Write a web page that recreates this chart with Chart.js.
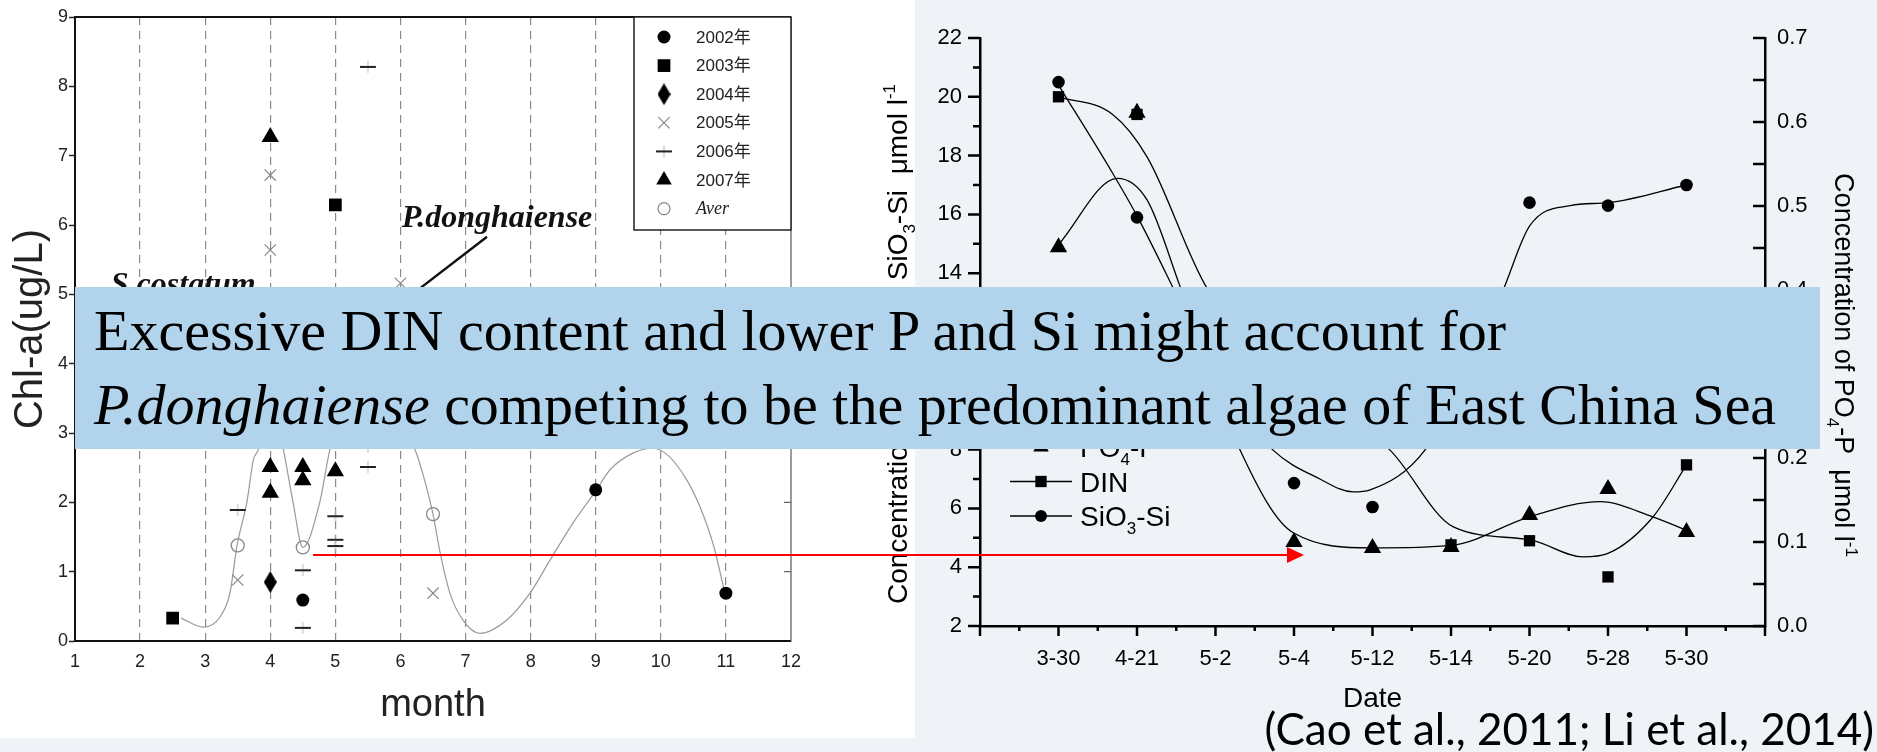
<!DOCTYPE html>
<html>
<head>
<meta charset="utf-8">
<title>Chl-a and nutrients</title>
<script src="https://cdn.jsdelivr.net/npm/chart.js@4.4.1/dist/chart.umd.min.js"></script>
<style>
  html, body { margin: 0; padding: 0; }
  body { width: 1877px; height: 752px; position: relative; overflow: hidden; background: #eff3f8; }
  #leftPanel { position: absolute; left: 0; top: 0; width: 915px; height: 738px; background: #fff; }
  #leftChart { position: absolute; left: 0; top: 0; }
  #rightChart { position: absolute; left: 870px; top: 0; }
  #note {
    position: absolute; left: 75px; top: 287px; width: 1745px; height: 162px;
    box-sizing: border-box; padding: 7px 0 0 19px; background: #b1d3eb;
    font-family: 'Liberation Serif', 'Times New Roman', serif; font-size: 58px; line-height: 74px;
    color: #000; white-space: nowrap;
  }
  #arrow { position: absolute; left: 0; top: 0; pointer-events: none; }
  #cite {
    position: absolute; right: 3px; top: 702px; font-family: Lato, 'Open Sans', sans-serif;
    font-size: 44px; line-height: 53px; color: #000; white-space: nowrap;
  }
</style>
</head>
<body>
<div id="leftPanel"></div>
<canvas id="leftChart" width="915" height="738"></canvas>
<canvas id="rightChart" width="1007" height="752"></canvas>
<div id="note">Excessive DIN content and lower P and Si might account for<br><i>P.donghaiense</i> competing to be the predominant algae of East China Sea</div>
<svg id="arrow" width="1877" height="752">
  <line x1="313" y1="555" x2="1290" y2="555" stroke="#ff0000" stroke-width="2"/>
  <polygon points="1287,547 1304,555 1287,563" fill="#ff0000"/>
</svg>
<div id="cite">(Cao et al., 2011; Li et al., 2014)</div>

<script>
// ---- left chart: Chl-a by month (points are [month, ug/L]) ----
const monthTicks = ['1', '2', '3', '4', '5', '6', '7', '8', '9', '10', '11', '12'];
const chlTicks = ['0', '1', '2', '3', '4', '5', '6', '7', '8', '9'];
const yr2002 = [[4.5, 0.59], [9, 2.18], [11, 0.69]];
const yr2003 = [[2.5, 0.33], [5, 6.29]];
const yr2004 = [[4, 0.85]];
const yr2005 = [[3.5, 0.88], [4, 5.64], [4, 6.72], [6, 5.16], [6.5, 0.69]];
const yr2006 = [[3.5, 1.89], [4.5, 1.02], [4.5, 0.19], [5, 1.8], [5, 1.46], [5, 1.37], [5.5, 2.51], [5.5, 2.8], [5.5, 8.28]];
const yr2007 = [[4, 7.27], [4, 2.51], [4, 2.14], [4.5, 2.51], [4.5, 2.32], [5, 2.45]];
const yrAver = [[3.5, 1.38], [4.5, 1.35], [6.5, 1.83]];
const averCurve = [
  [2.63, 0.33], [2.97, 0.2], [3.23, 0.35], [3.38, 0.69], [3.49, 1.38], [3.64, 2.0], [3.74, 2.61],
  [3.82, 2.77], [4.0, 3.6], [4.2, 2.77], [4.35, 2.0], [4.5, 1.35], [4.76, 2.0], [4.92, 2.77],
  [5.5, 3.9], [6.22, 2.77], [6.4, 2.22], [6.5, 1.83], [6.61, 1.27], [6.76, 0.69], [6.96, 0.3],
  [7.22, 0.11], [7.63, 0.3], [7.99, 0.69], [8.3, 1.17], [8.65, 1.7], [8.99, 2.15], [9.22, 2.47],
  [9.57, 2.71], [9.88, 2.78], [10.4, 2.32], [10.8, 1.41], [10.97, 0.75]
];

// ---- right chart: nutrients by date ----
const dates = ['3-30', '4-21', '5-2', '5-4', '5-12', '5-14', '5-20', '5-28', '5-30'];
const po4 = [0.451, 0.611, null, 0.1, 0.093, 0.094, 0.132, 0.163, 0.112];
const din = [20.0, 19.4, null, null, null, 4.76, 4.9, 3.67, 7.48];
const sio3 = [20.5, 15.9, null, 6.86, 6.05, null, 16.4, 16.3, 17.0];
// fitted curves (x in date slots)
const po4CurveX = [1.0, 1.75, 2.13, 2.55, 3.31, 3.99, 5.0, 6.01, 7.0, 7.9, 8.57, 9.0];
const po4CurveY = [0.454, 0.533, 0.507, 0.404, 0.21, 0.111, 0.093, 0.096, 0.13, 0.148, 0.13, 0.114];
const dinCurveX = [1.0, 1.69, 2.13, 2.89, 4.0, 5.22, 6.03, 7.01, 7.68, 8.0, 8.57, 9.0];
const dinCurveY = [20.0, 19.4, 17.95, 13.5, 10.3, 7.99, 5.37, 4.93, 4.35, 4.47, 5.7, 7.48];
const sioCurveX = [1.0, 1.69, 2.01, 2.46, 3.0, 3.73, 4.33, 4.75, 4.97, 5.67, 6.2, 6.66, 7.0, 7.52, 8.0, 9.0];
const sioCurveY = [20.4, 17.4, 15.9, 13.5, 10.5, 7.99, 7.0, 6.56, 6.63, 7.99, 10.7, 13.4, 15.6, 16.3, 16.4, 17.0];

const SANS = "'Liberation Sans', Arial, sans-serif";
const SERIF = "'Liberation Serif', 'Times New Roman', serif";
Chart.defaults.font.family = SANS;
Chart.defaults.color = '#000';

const pts = arr => arr.map(p => ({ x: p[0], y: p[1] }));
const xy = (xs, ys) => xs.map((x, i) => ({ x: x, y: ys[i] }));
const slots = vals => vals.map((v, i) => ({ x: i + 1, y: v }));

// small custom markers
function markCanvas(w, h, draw) {
  const c = document.createElement('canvas');
  c.width = w; c.height = h;
  draw(c.getContext('2d'), w, h);
  return c;
}
const diamondMark = markCanvas(13, 22, (g, w, h) => {
  g.fillStyle = '#000';
  g.beginPath(); g.moveTo(w / 2, 0); g.lineTo(w, h / 2); g.lineTo(w / 2, h); g.lineTo(0, h / 2); g.closePath(); g.fill();
});
const dashMark = markCanvas(18, 14, (g) => {
  g.fillStyle = '#bbb'; g.fillRect(8.5, 1, 1, 12);
  g.fillStyle = '#222'; g.fillRect(1, 6, 16, 2);
});

function drawMark(ctx, style, x, y, r, fill, stroke) {
  ctx.save();
  ctx.fillStyle = fill; ctx.strokeStyle = stroke; ctx.lineWidth = 1.2;
  ctx.beginPath();
  if (style === 'circle') { ctx.arc(x, y, r, 0, Math.PI * 2); ctx.fill(); }
  else if (style === 'ring') { ctx.arc(x, y, r, 0, Math.PI * 2); ctx.stroke(); }
  else if (style === 'rect') { const s = r / Math.SQRT2; ctx.fillRect(x - s, y - s, 2 * s, 2 * s); }
  else if (style === 'triangle') {
    for (let k = 0; k < 3; k++) {
      const a = k * 2 * Math.PI / 3;
      const px = x + Math.sin(a) * r, py = y - Math.cos(a) * r;
      if (k === 0) ctx.moveTo(px, py); else ctx.lineTo(px, py);
    }
    ctx.closePath(); ctx.fill();
  } else if (style === 'crossRot') {
    const d = r * 0.7;
    ctx.moveTo(x - d, y - d); ctx.lineTo(x + d, y + d); ctx.moveTo(x + d, y - d); ctx.lineTo(x - d, y + d); ctx.stroke();
  } else if (style instanceof HTMLCanvasElement) {
    ctx.drawImage(style, x - style.width / 2, y - style.height / 2);
  }
  ctx.restore();
}

// text with sub/superscript parts
function drawRich(ctx, parts, x, y, size, rot, align) {
  ctx.save();
  ctx.translate(x, y); ctx.rotate(rot || 0);
  ctx.textBaseline = 'alphabetic'; ctx.textAlign = 'left'; ctx.fillStyle = '#000';
  const fontOf = p => ((p.sub || p.sup) ? Math.round(size * 0.62) : size) + 'px ' + SANS;
  let w = 0;
  parts.forEach(p => { ctx.font = fontOf(p); w += ctx.measureText(p.t).width; });
  let cx = align === 'left' ? 0 : -w / 2;
  parts.forEach(p => {
    ctx.font = fontOf(p);
    const dy = p.sub ? size * 0.3 : (p.sup ? -size * 0.42 : 0);
    ctx.fillText(p.t, cx, dy);
    cx += ctx.measureText(p.t).width;
  });
  ctx.restore();
}

// ---- left chart extras: frame, legend box, species labels ----
const leftLegend = [
  { text: '2002年', style: 'circle', r: 6.5, fill: '#000', stroke: '#000' },
  { text: '2003年', style: 'rect', r: 9, fill: '#000', stroke: '#000' },
  { text: '2004年', style: diamondMark, r: 0, fill: '#000', stroke: '#000' },
  { text: '2005年', style: 'crossRot', r: 8, fill: '#888', stroke: '#888' },
  { text: '2006年', style: dashMark, r: 0, fill: '#000', stroke: '#000' },
  { text: '2007年', style: 'triangle', r: 9, fill: '#000', stroke: '#000' },
  { text: 'Aver', style: 'ring', r: 6, fill: '#fff', stroke: '#888', italic: true }
];

const leftDecor = {
  id: 'leftDecor',
  afterDatasetsDraw(chart) {
    const { ctx, chartArea: a, scales } = chart;
    const sx = scales.x, sy = scales.y;
    ctx.save();
    // top and right frame
    ctx.strokeStyle = '#111'; ctx.lineWidth = 2;
    ctx.beginPath(); ctx.moveTo(a.left, a.top); ctx.lineTo(a.right, a.top); ctx.stroke();
    ctx.strokeStyle = '#666'; ctx.lineWidth = 1.3;
    ctx.beginPath(); ctx.moveTo(a.right, a.top); ctx.lineTo(a.right, a.bottom);
    for (let v = 1; v < 9; v++) { const y = sy.getPixelForValue(v); ctx.moveTo(a.right - 7, y); ctx.lineTo(a.right, y); }
    ctx.stroke();

    // species labels and pointer
    ctx.fillStyle = '#111';
    ctx.font = 'italic bold 32px ' + SERIF;
    ctx.textBaseline = 'alphabetic';
    ctx.fillText('S.costatum', sx.getPixelForValue(1.55), sy.getPixelForValue(5.0));
    ctx.fillText('P.donghaiense', sx.getPixelForValue(6.02), sy.getPixelForValue(5.97));
    ctx.strokeStyle = '#111'; ctx.lineWidth = 2.5;
    ctx.beginPath();
    ctx.moveTo(sx.getPixelForValue(7.33), sy.getPixelForValue(5.83));
    ctx.lineTo(sx.getPixelForValue(6.07), sy.getPixelForValue(4.92));
    ctx.stroke();

    // legend box
    const bx = a.right - 157, by = a.top, bw = 157, bh = 213;
    ctx.fillStyle = '#fff'; ctx.fillRect(bx, by, bw, bh);
    ctx.strokeStyle = '#222'; ctx.lineWidth = 1.5; ctx.strokeRect(bx, by, bw, bh);
    leftLegend.forEach((item, i) => {
      const y = by + 20 + i * 28.6;
      drawMark(ctx, item.style, bx + 30, y, item.r, item.fill, item.stroke);
      ctx.fillStyle = '#222';
      ctx.textBaseline = 'middle';
      ctx.font = item.italic ? 'italic 18px ' + SERIF : "17px 'Liberation Sans', 'Noto Sans CJK SC', sans-serif";
      ctx.fillText(item.text, bx + 62, y + 1);
    });
    ctx.restore();
  }
};

new Chart(document.getElementById('leftChart'), {
  type: 'scatter',
  data: {
    datasets: [
      { label: '2002年', data: pts(yr2002), pointStyle: 'circle', pointRadius: 6.5, backgroundColor: '#000', borderColor: '#000', borderWidth: 0 },
      { label: '2003年', data: pts(yr2003), pointStyle: 'rect', pointRadius: 9, backgroundColor: '#000', borderColor: '#000', borderWidth: 0 },
      { label: '2004年', data: pts(yr2004), pointStyle: diamondMark },
      { label: '2005年', data: pts(yr2005), pointStyle: 'crossRot', pointRadius: 8, backgroundColor: '#888', borderColor: '#888', borderWidth: 1.2 },
      { label: '2006年', data: pts(yr2006), pointStyle: dashMark },
      { label: '2007年', data: pts(yr2007), pointStyle: 'triangle', pointRadius: 10, backgroundColor: '#000', borderColor: '#000', borderWidth: 0 },
      { label: 'Aver', data: pts(yrAver), pointStyle: 'circle', pointRadius: 6.5, backgroundColor: 'rgba(255,255,255,0)', borderColor: '#888', borderWidth: 1.3 },
      { label: 'Aver fit', data: pts(averCurve), showLine: true, pointRadius: 0, borderColor: '#9a9a9a', borderWidth: 1.2, cubicInterpolationMode: 'monotone', fill: false }
    ]
  },
  options: {
    responsive: false, animation: false, devicePixelRatio: 1, events: [],
    layout: { padding: { top: 17, right: 124, left: 0, bottom: 0 } },
    plugins: { legend: { display: false }, tooltip: { enabled: false } },
    scales: {
      x: {
        type: 'linear', min: 1, max: 12,
        afterFit: s => { s.height = 97; },
        ticks: { stepSize: 1, padding: 10, color: '#222', font: { size: 18 }, callback: v => monthTicks[v - 1] },
        grid: {
          drawTicks: false,
          color: c => (c.tick && (c.tick.value === 1 || c.tick.value === 12)) ? 'rgba(0,0,0,0)' : '#8a8a8a',
          lineWidth: 1.2
        },
        border: { color: '#111', width: 2, dash: [8, 6] },
        title: { display: true, text: 'month', color: '#222', font: { size: 38 }, padding: { top: 0, bottom: 10 } }
      },
      y: {
        min: 0, max: 9,
        afterFit: s => { s.width = 75; },
        ticks: { stepSize: 1, padding: 1, color: '#222', font: { size: 18 }, callback: v => chlTicks[v] },
        grid: { drawOnChartArea: false, tickLength: 6, tickColor: '#222', tickWidth: 1.5 },
        border: { color: '#111', width: 2 },
        title: { display: true, text: 'Chl-a(ug/L)', color: '#222', font: { size: 40 }, padding: { top: 7, bottom: 0 } }
      }
    }
  },
  plugins: [leftDecor]
});

// ---- right chart extras: ticks, axis titles, legend ----
const rightLegend = [
  { parts: [{ t: 'PO' }, { t: '4', sub: true }, { t: '-P' }], style: 'triangle', r: 9 },
  { parts: [{ t: 'DIN' }], style: 'rect', r: 8 },
  { parts: [{ t: 'SiO' }, { t: '3', sub: true }, { t: '-Si' }], style: 'circle', r: 6 }
];

const rightDecor = {
  id: 'rightDecor',
  afterDraw(chart) {
    const { ctx, chartArea: a, scales } = chart;
    ctx.save();
    ctx.strokeStyle = '#000'; ctx.lineWidth = 2.5;
    ctx.beginPath();
    for (let v = 2; v <= 22; v++) {
      const y = scales.y.getPixelForValue(v), len = v % 2 === 0 ? 12 : 7;
      ctx.moveTo(a.left - len, y); ctx.lineTo(a.left, y);
    }
    for (let k = 0; k <= 14; k++) {
      const y = scales.y1.getPixelForValue(k * 0.05);
      ctx.moveTo(a.right - 12, y); ctx.lineTo(a.right, y);
    }
    for (let k = 0; k <= 20; k++) {
      const x = scales.x.getPixelForValue(k / 2), len = k % 2 === 0 ? 10 : 5;
      ctx.moveTo(x, a.bottom); ctx.lineTo(x, a.bottom + len);
    }
    ctx.stroke();

    // axis titles
    drawRich(ctx, [{ t: 'Concentration of DIN and SiO' }, { t: '3', sub: true }, { t: '-Si  \u03bcmol l' }, { t: '-1', sup: true }],
      a.left - 73, 344, 28, -Math.PI / 2);
    drawRich(ctx, [{ t: 'Concentration of PO' }, { t: '4', sub: true }, { t: '-P  \u03bcmol l' }, { t: '-1', sup: true }],
      a.right + 70, 365, 27, Math.PI / 2);
    drawRich(ctx, [{ t: 'Date' }], (a.left + a.right) / 2, a.bottom + 81, 28, 0);

    // legend
    rightLegend.forEach((row, i) => {
      const y = a.top + 409 + i * 34.5;
      ctx.strokeStyle = '#000'; ctx.lineWidth = 1.5;
      ctx.beginPath(); ctx.moveTo(a.left + 30, y); ctx.lineTo(a.left + 92, y); ctx.stroke();
      drawMark(ctx, row.style, a.left + 61, y, row.r, '#000', '#000');
      drawRich(ctx, row.parts, a.left + 100, y + 10, 28, 0, 'left');
    });
    ctx.restore();
  }
};

const curveStyle = { showLine: true, pointRadius: 0, borderColor: '#000', borderWidth: 1.3, cubicInterpolationMode: 'monotone', fill: false };

new Chart(document.getElementById('rightChart'), {
  type: 'scatter',
  data: {
    datasets: [
      { label: 'PO4-P', data: slots(po4), yAxisID: 'y1', pointStyle: 'triangle', pointRadius: 10, backgroundColor: '#000', borderColor: '#000', borderWidth: 0 },
      { label: 'DIN', data: slots(din), yAxisID: 'y', pointStyle: 'rect', pointRadius: 8, backgroundColor: '#000', borderColor: '#000', borderWidth: 0 },
      { label: 'SiO3-Si', data: slots(sio3), yAxisID: 'y', pointStyle: 'circle', pointRadius: 6.3, backgroundColor: '#000', borderColor: '#000', borderWidth: 0 },
      Object.assign({ label: 'PO4-P fit', data: xy(po4CurveX, po4CurveY), yAxisID: 'y1' }, curveStyle),
      Object.assign({ label: 'DIN fit', data: xy(dinCurveX, dinCurveY), yAxisID: 'y' }, curveStyle),
      Object.assign({ label: 'SiO3-Si fit', data: xy(sioCurveX, sioCurveY), yAxisID: 'y' }, curveStyle)
    ]
  },
  options: {
    responsive: false, animation: false, devicePixelRatio: 1, events: [],
    layout: { padding: { top: 38, right: 0, left: 0, bottom: 0 } },
    plugins: { legend: { display: false }, tooltip: { enabled: false } },
    scales: {
      x: {
        type: 'linear', min: 0, max: 10,
        afterFit: s => { s.height = 126; },
        ticks: { stepSize: 1, padding: 20, font: { size: 22 }, callback: v => (v >= 1 && v <= dates.length) ? dates[v - 1] : '' },
        grid: { drawOnChartArea: false, drawTicks: false },
        border: { color: '#000', width: 2.5 }
      },
      y: {
        position: 'left', min: 2, max: 22,
        afterFit: s => { s.width = 110; },
        ticks: { stepSize: 1, padding: 18, font: { size: 22 }, callback: v => (v % 2 === 0 ? String(v) : '') },
        grid: { drawOnChartArea: false, drawTicks: false },
        border: { color: '#000', width: 2.5 }
      },
      y1: {
        position: 'right', min: 0, max: 0.7,
        afterFit: s => { s.width = 112; },
        ticks: { stepSize: 0.1, padding: 12, font: { size: 22 }, callback: v => v.toFixed(1) },
        grid: { drawOnChartArea: false, drawTicks: false },
        border: { color: '#000', width: 2.5 }
      }
    }
  },
  plugins: [rightDecor]
});
</script>
</body>
</html>
